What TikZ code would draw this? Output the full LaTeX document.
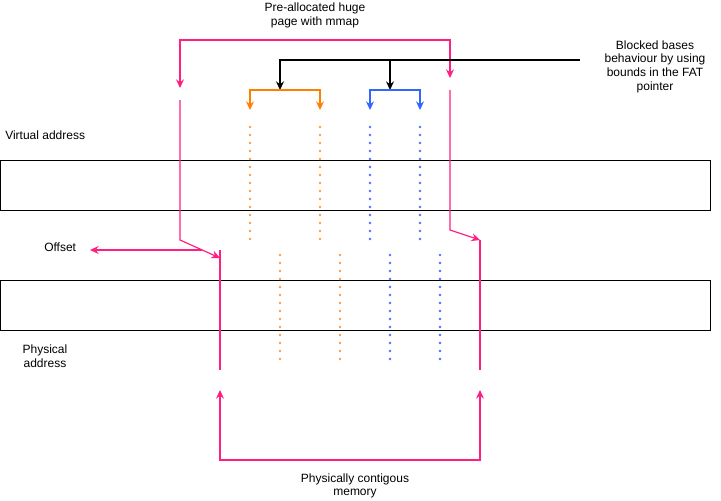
\documentclass[tikz,border=0pt]{standalone}
\usepackage{fontspec}
\setmainfont{Liberation Sans}
\usetikzlibrary{arrows.meta}
\definecolor{pinkc}{HTML}{FF1F80}
\definecolor{orangec}{HTML}{FF8000}
\definecolor{bluec}{HTML}{3366FF}
\definecolor{odot}{HTML}{FF9A40}
\definecolor{bdot}{HTML}{4D70FF}
\tikzset{
  lbl/.style={font=\fontsize{9pt}{10.2pt}\selectfont, inner sep=0pt, align=center},
  pinkline/.style={draw=pinkc, line width=0.9pt},
  tip/.style={-{Stealth[length=6.5pt,width=6pt,inset=2.2pt]}},
  btip/.style={{Stealth[length=6.5pt,width=6pt,inset=2.2pt]}-{Stealth[length=6.5pt,width=6pt,inset=2.2pt]}},
  addrbox/.style={draw=black, line width=0.9pt},
  blk/.style={draw=black, line width=0.9pt},
  obr/.style={draw=orangec, line width=0.9pt},
  bbr/.style={draw=bluec, line width=0.9pt},
}
\begin{document}
\begin{tikzpicture}[x=0.75pt,y=-0.75pt]
\useasboundingbox (0,0) rectangle (721,500);
% address boxes
\node[addrbox, minimum width=710*0.75pt, minimum height=50*0.75pt, inner sep=0pt, anchor=north west] (va) at (0,160) {};
\node[addrbox, minimum width=710*0.75pt, minimum height=50*0.75pt, inner sep=0pt, anchor=north west] (pa) at (0,280) {};
% labels
\node[lbl, anchor=west] (vat) at (5,135) {Virtual address};
\node[lbl] (pat) at (45,356) {Physical\\address};
\node[lbl, anchor=west] (off) at (44,247) {Offset};
\node[lbl] (pre) at (315,15.5) {Pre-allocated huge\\page with mmap};
\node[lbl] (phc) at (355,486) {Physically contigous\\memory};
\node[lbl] (blkt) at (655,66.5) {Blocked bases\\behaviour by using\\bounds in the FAT\\pointer};
% coordinates
\coordinate (pL) at (180,88);
\coordinate (pR) at (450,78);
\coordinate (lv1) at (180,100);
\coordinate (lv2) at (180,240);
\coordinate (lt) at (220,258);
\coordinate (lvt) at (220,250);
\coordinate (lvb) at (220,370);
\coordinate (rv1) at (450,90);
\coordinate (rv2) at (450,230);
\coordinate (rt) at (480,240);
\coordinate (rvb) at (480,370);
\coordinate (bL) at (220,390);
\coordinate (bR) at (480,390);
\coordinate (oS) at (202,250);
\coordinate (oE) at (90,250);
\coordinate (kS) at (580,60);
\coordinate (kA) at (280,90);
\coordinate (kB) at (390,90);
\coordinate (oa) at (250,110);
\coordinate (ob) at (320,110);
\coordinate (ba) at (370,110);
\coordinate (bb) at (420,110);
% pink connectors
\draw[pinkline, btip] (pL) -- (180,40) -- (450,40) -- (pR);
\draw[pinkline, tip] (lv1) -- (lv2) -- (lt);
\draw[pinkline] (lvt) -- (lvb);
\draw[pinkline, tip] (rv1) -- (rv2) -- (rt);
\draw[pinkline] (rt) -- (rvb);
\draw[pinkline, btip] (bL) -- (220,460) -- (480,460) -- (bR);
\draw[pinkline, tip] (oS) -- (oE);
% black connector
\draw[blk, tip] (kS) -- (280,60) -- (kA);
\draw[blk, tip] (390,60) -- (kB);
% orange / blue brackets
\draw[obr, tip] (kA) -- (250,90) -- (oa);
\draw[obr, tip] (kA) -- (320,90) -- (ob);
\draw[bbr, tip] (kB) -- (370,90) -- (ba);
\draw[bbr, tip] (kB) -- (420,90) -- (bb);
% dotted lines
\foreach \x/\c in {250/odot,320/odot,370/bdot,420/bdot}{
  \foreach \i in {0,...,14}{
    \fill[\c] (\x,127+8*\i) circle[radius=1.3*0.75pt];
  }
}
\foreach \x/\c in {280/odot,340/odot,390/bdot,440/bdot}{
  \foreach \i in {0,...,13}{
    \fill[\c] (\x,255+8*\i) circle[radius=1.3*0.75pt];
  }
}
\end{tikzpicture}
\end{document}
